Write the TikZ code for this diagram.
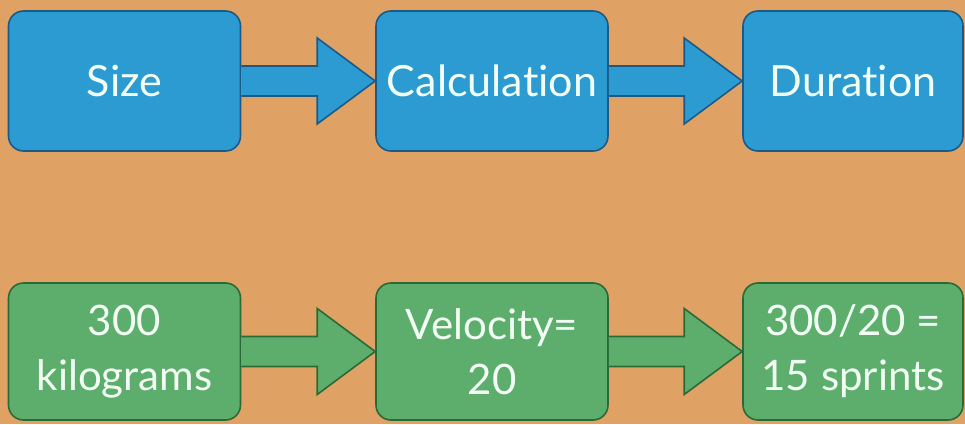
\documentclass[tikz,border=0pt]{standalone}
\usepackage{fontspec}
\setmainfont{Lato}[Ligatures=NoCommon]
\usetikzlibrary{calc}
\definecolor{cork}{HTML}{DFA264}
\definecolor{boxblue}{HTML}{2B9BD2}
\definecolor{edgeblue}{HTML}{1B5A86}
\definecolor{boxgreen}{HTML}{5DAE6C}
\definecolor{edgegreen}{HTML}{2A6A37}
\definecolor{boxtext}{HTML}{F2FFF4}
\begin{document}
\begin{tikzpicture}[
  x=1pt, y=1pt,
  every node/.style={text=boxtext},
  step box/.style={rounded corners=15pt, line width=1.6pt, align=center,
    minimum width=232pt, minimum height=140pt, inner sep=0pt},
  blue box/.style={step box, draw=edgeblue, fill=boxblue, font=\fontsize{43}{50}\selectfont},
  green box/.style={step box, draw=edgegreen, fill=boxgreen, font=\fontsize{42}{55}\selectfont},
  blue arrow/.style={draw=edgeblue, fill=boxblue, line width=1.6pt, line join=miter},
  green arrow/.style={draw=edgegreen, fill=boxgreen, line width=1.6pt, line join=miter}
]
% --- fond de liège ---
\fill[cork] (0,0) rectangle (965,424);
\useasboundingbox (0,0) rectangle (965,424);

% --- rangée du haut : les étapes ---
\node[blue box] (size) at (124.5,343) {Size};
\node[blue box] (calc) at (492,343)   {Calculation};
\node[blue box, minimum width=220pt] (dur) at (853,343) {Duration};

% --- rangée du bas : l'exemple ---
\node[green box, minimum height=137pt] (kilo) at (124.5,72.5) {300\\kilograms};
\node[green box, minimum height=137pt] (velo) at (492,72.5)   {Velocity=\\20};
\node[green box, minimum height=137pt, minimum width=220pt] (spr) at (853,72.5) {300/20 =\\15 sprints};

% --- grosses flèches entre les boîtes ---
\draw[blue arrow] ($(size.east)+(0,15)$) -- ($(calc.west)+(-58,15)$) -- ($(calc.west)+(-58,43)$)
  -- (calc.west) -- ($(calc.west)+(-58,-43)$) -- ($(calc.west)+(-58,-15)$) -- ($(size.east)+(0,-15)$);
\draw[blue arrow] ($(calc.east)+(0,15)$) -- ($(dur.west)+(-58,15)$) -- ($(dur.west)+(-58,43)$)
  -- (dur.west) -- ($(dur.west)+(-58,-43)$) -- ($(dur.west)+(-58,-15)$) -- ($(calc.east)+(0,-15)$);
\draw[green arrow] ($(kilo.east)+(0,15)$) -- ($(velo.west)+(-58,15)$) -- ($(velo.west)+(-58,43)$)
  -- (velo.west) -- ($(velo.west)+(-58,-43)$) -- ($(velo.west)+(-58,-15)$) -- ($(kilo.east)+(0,-15)$);
\draw[green arrow] ($(velo.east)+(0,15)$) -- ($(spr.west)+(-58,15)$) -- ($(spr.west)+(-58,43)$)
  -- (spr.west) -- ($(spr.west)+(-58,-43)$) -- ($(spr.west)+(-58,-15)$) -- ($(velo.east)+(0,-15)$);

\end{tikzpicture}
\end{document}
